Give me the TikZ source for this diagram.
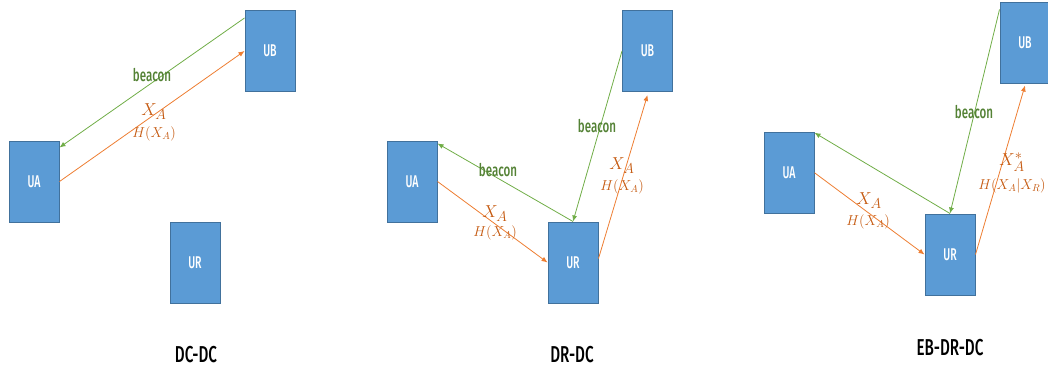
\documentclass[tikz,border=0pt]{standalone}
\usepackage{fontspec}
\newfontfamily\condfont[FakeStretch=0.66]{Fira Sans Medium}
\newfontfamily\condfontb[FakeStretch=0.62]{Fira Sans Medium}
\usetikzlibrary{arrows.meta}
\definecolor{boxfill}{HTML}{5B9BD5}
\definecolor{boxline}{HTML}{41719C}
\definecolor{grn}{HTML}{70AD47}
\definecolor{grntext}{HTML}{548235}
\definecolor{org}{HTML}{ED7D31}
\definecolor{orgtext}{HTML}{C55A11}
\tikzset{
  ubox/.style={draw=boxline, line width=1pt, fill=boxfill, minimum width=50pt, minimum height=81pt, inner sep=0pt, text=white, font=\condfontb\fontsize{17}{17}\selectfont},
  garrow/.style={draw=grn, line width=0.8pt, -{Latex[length=6pt,width=5pt]}},
  oarrow/.style={draw=org, line width=0.8pt, -{Latex[length=6pt,width=5pt]}},
  beaconlbl/.style={text=grntext, font=\condfont\fontsize{17.5}{17.5}\selectfont, inner sep=0pt},
  biglbl/.style={text=orgtext, font=\fontsize{19}{19}\selectfont, inner sep=0pt},
  smalllbl/.style={text=orgtext, font=\fontsize{14}{14}\selectfont, inner sep=0pt},
  title/.style={text=black, font=\condfont\fontsize{23}{23}\selectfont, inner sep=0pt}
}
\begin{document}
\begin{tikzpicture}[x=1pt, y=-1pt]
\useasboundingbox (0,0) rectangle (1048,370);
% ---------- Panel 1: DC-DC
\node[ubox] (UB1) at (270,51) {UB};
\node[ubox] (UA1) at (34,181.5) {UA};
\node[ubox] (UR1) at (195,262.5) {UR};
\draw[garrow] ([yshift=-8pt]UB1.north west) -- ([yshift=-7pt]UA1.north east);
\draw[oarrow] (UA1.east) -- (UB1.west);
\node[beaconlbl] (b1) at (152,75) {beacon};
\node[biglbl] (x1) at (154,112) {$X_A$};
\node[smalllbl] (h1) at (154,134) {$H(X_A)$};
\node[title] (t1) at (196,355) {DC-DC};
% ---------- Panel 2: DR-DC
\node[ubox] (UB2) at (647.5,51) {UB};
\node[ubox] (UA2) at (412,181.5) {UA};
\node[ubox] (UR2) at (573,262.5) {UR};
\draw[garrow] (UB2.west) -- (UR2.north);
\draw[garrow] (UR2.north) -- ([yshift=-3pt]UA2.north east);
\draw[oarrow] (UA2.east) -- (UR2.west);
\draw[oarrow] ([yshift=4pt]UR2.east) -- ([yshift=-3pt]UB2.south);
\node[beaconlbl] (b2) at (597,126) {beacon};
\node[beaconlbl] (b3) at (498,170) {beacon};
\node[biglbl] (x2) at (622,166) {$X_A$};
\node[smalllbl] (h2) at (622,187) {$H(X_A)$};
\node[biglbl] (x3) at (495,214) {$X_A$};
\node[smalllbl] (h3) at (495,233) {$H(X_A)$};
\node[title] (t2) at (572,355) {DR-DC};
% ---------- Panel 3: EB-DR-DC
\node[ubox] (UB3) at (1025,42.5) {UB};
\node[ubox] (UA3) at (789,172.75) {UA};
\node[ubox] (UR3) at (950,254.5) {UR};
\draw[garrow] ([yshift=-8pt]UB3.north west) -- (UR3.north);
\draw[garrow] (UR3.north) -- ([yshift=-1pt]UA3.north east);
\draw[oarrow] (UA3.east) -- (UR3.west);
\draw[oarrow] (UR3.east) -- ([yshift=-2pt]UB3.south);
\node[beaconlbl] (b4) at (974,112) {beacon};
\node[biglbl] (x4) at (1012,162) {$X_A^*$};
\node[smalllbl] (h4) at (1012,186) {$H(X_A|X_R)$};
\node[biglbl] (x5) at (869,201) {$X_A$};
\node[smalllbl] (h5) at (868,222) {$H(X_A)$};
\node[title] (t3) at (950,348) {EB-DR-DC};
\end{tikzpicture}
\end{document}
